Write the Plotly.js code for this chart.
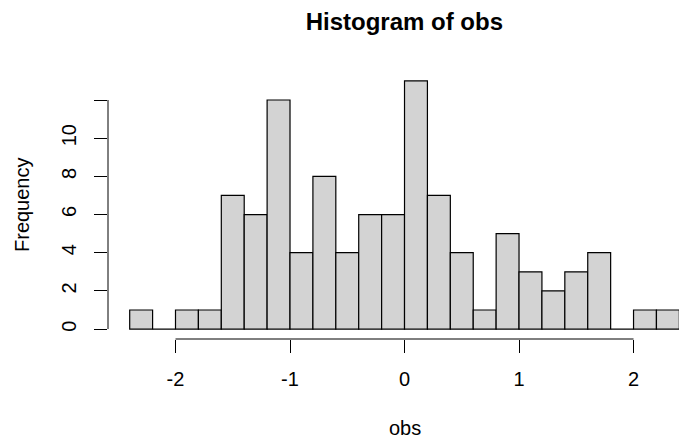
<!DOCTYPE html>
<html>
<head>
<meta charset="utf-8">
<script src="https://cdn.plot.ly/plotly-3.0.1.min.js"></script>
<style>
  html, body { margin: 0; padding: 0; background: #ffffff; }
  #chart { width: 679px; height: 438px; }
</style>
</head>
<body>
<div id="chart"></div>
<script>
// Histogram bins: edges every 0.2 from -2.4 to 2.4
const breaks = [-2.4, -2.2, -2.0, -1.8, -1.6, -1.4, -1.2, -1.0, -0.8, -0.6, -0.4, -0.2,
                0.0, 0.2, 0.4, 0.6, 0.8, 1.0, 1.2, 1.4, 1.6, 1.8, 2.0, 2.2, 2.4];
// Counts per bin
const counts = [1, 0, 1, 1, 7, 6, 12, 4, 8, 4, 6, 6,
                13, 7, 4, 1, 5, 3, 2, 3, 4, 0, 1, 1];
const xTicks = [-2, -1, 0, 1, 2];
const yTicks = [0, 2, 4, 6, 8, 10, 12];
const yTickLabels = ['0', '2', '4', '6', '8', '10', ''];

const mids = counts.map((_, i) => (breaks[i] + breaks[i + 1]) / 2);
const widths = counts.map((_, i) => breaks[i + 1] - breaks[i]);

const font = 'Liberation Sans, Arial, Helvetica, sans-serif';

const trace = {
  type: 'bar',
  x: mids,
  y: counts,
  width: widths,
  marker: { color: '#d3d3d3', line: { color: '#000000', width: 1.2 } },
  hoverinfo: 'x+y'
};

const layout = {
  width: 679,
  height: 438,
  margin: { l: 108, r: 0, t: 71, b: 99, pad: 0 },
  paper_bgcolor: '#ffffff',
  plot_bgcolor: '#ffffff',
  showlegend: false,
  font: { family: font, size: 20, color: '#000000' },
  title: {
    text: '<b>Histogram of obs</b>',
    font: { family: font, size: 24, color: '#000000' },
    x: 0.519, xref: 'paper', xanchor: 'center',
    y: 1 - 22 / 438, yref: 'container', yanchor: 'middle'
  },
  xaxis: {
    range: [-2.5895, 2.397],
    tickvals: xTicks,
    ticktext: xTicks.map(String),
    ticks: 'outside', ticklen: 13, tickwidth: 1, tickcolor: '#000000',
    ticklabelstandoff: 9,
    showline: false, showgrid: false, zeroline: false,
    tickfont: { family: font, size: 20, color: '#000000' }
  },
  yaxis: {
    range: [-0.52, 13.52],
    tickvals: yTicks,
    ticktext: yTickLabels,
    tickangle: -90,
    ticks: 'outside', ticklen: 13, tickwidth: 1, tickcolor: '#000000',
    ticklabelstandoff: 10,
    showline: false, showgrid: false, zeroline: false,
    tickfont: { family: font, size: 20, color: '#000000' }
  },
  shapes: [
    { type: 'line', xref: 'x', yref: 'paper', x0: xTicks[0], x1: xTicks[xTicks.length - 1], y0: 0, y1: 0,
      line: { color: '#000000', width: 1 } },
    { type: 'line', xref: 'paper', yref: 'y', x0: 0, x1: 0, y0: yTicks[0], y1: yTicks[yTicks.length - 1],
      line: { color: '#000000', width: 1 } }
  ],
  annotations: [
    { text: 'obs', xref: 'x', yref: 'paper', x: 0, y: 0, xanchor: 'center', yanchor: 'middle',
      yshift: -89, showarrow: false, font: { family: font, size: 20, color: '#000000' } },
    { text: 'Frequency', xref: 'paper', yref: 'paper', x: 0, y: 0.5, xanchor: 'center', yanchor: 'middle',
      xshift: -86, textangle: -90, showarrow: false, font: { family: font, size: 20, color: '#000000' } }
  ]
};

Plotly.newPlot('chart', [trace], layout, { displayModeBar: false, staticPlot: true });
</script>
</body>
</html>
